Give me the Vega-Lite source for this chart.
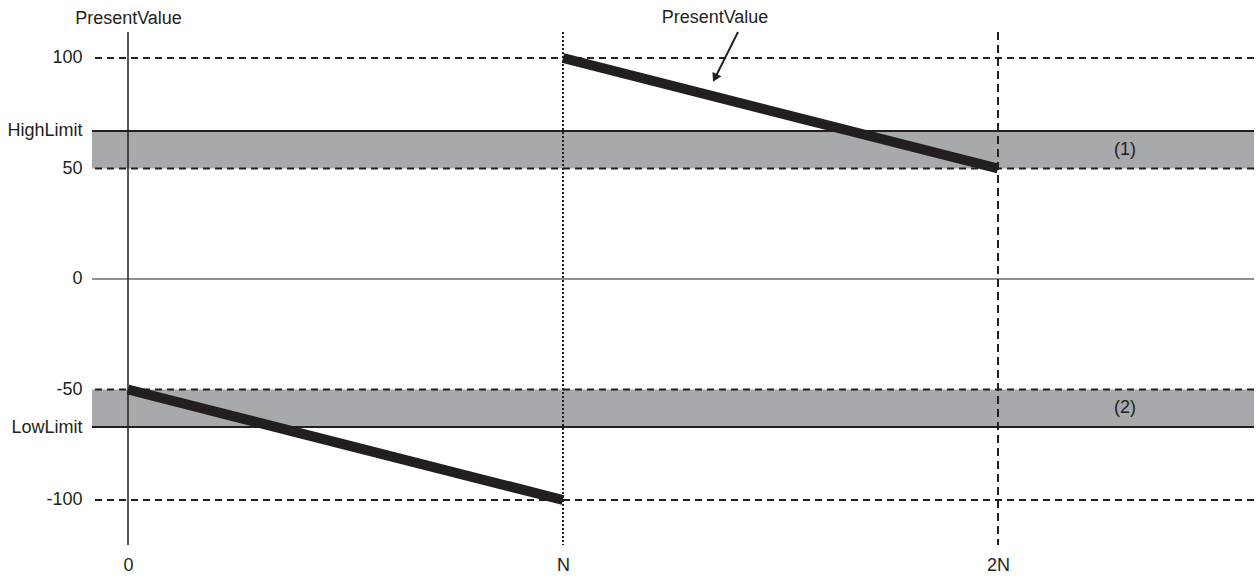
{
  "$schema": "https://vega.github.io/schema/vega-lite/v6.json",
  "width": 1162,
  "height": 548,
  "padding": {"left": 92, "top": 0, "right": 2, "bottom": 30},
  "autosize": {"type": "none"},
  "config": {
    "view": {"stroke": null},
    "font": "Liberation Sans",
    "axis": {"labelColor": "#231f20", "titleColor": "#231f20", "labelFont": "Liberation Sans", "titleFont": "Liberation Sans"}
  },
  "layer": [
    {
      "data": {"values": [
        {"lo": 50, "hi": 67},
        {"lo": -67, "hi": -50}
      ]},
      "mark": {"type": "rect", "color": "#a7a9ac"},
      "encoding": {
        "y": {"field": "lo", "type": "quantitative",
          "scale": {"domain": [-121.72, 126.24], "nice": false, "zero": false},
          "axis": {"values": [100, 67, 50, 0, -50, -67, -100],
            "labelExpr": "datum.value == 67 ? 'HighLimit' : datum.value == -67 ? 'LowLimit' : '' + datum.value",
            "domain": false, "ticks": false, "grid": false, "labelPadding": 10, "labelFontSize": 18,
            "title": "PresentValue", "titleAngle": 0, "titleX": 36, "titleY": 18,
            "titleAlign": "center", "titleBaseline": "middle", "titleFontWeight": "normal", "titleFontSize": 18}},
        "y2": {"field": "hi"}
      }
    },
    {
      "data": {"values": [{"v": 100}, {"v": 50}, {"v": -50}, {"v": -100}]},
      "mark": {"type": "rule", "color": "#231f20", "strokeWidth": 2, "strokeDash": [7, 5]},
      "encoding": {
        "y": {"field": "v", "type": "quantitative", "scale": {"domain": [-121.72, 126.24], "nice": false, "zero": false},
          "axis": {"values": [100, 67, 50, 0, -50, -67, -100],
            "labelExpr": "datum.value == 67 ? 'HighLimit' : datum.value == -67 ? 'LowLimit' : '' + datum.value",
            "domain": false, "ticks": false, "grid": false, "labelPadding": 10, "labelFontSize": 18,
            "title": "PresentValue", "titleAngle": 0, "titleX": 36, "titleY": 18,
            "titleAlign": "center", "titleBaseline": "middle", "titleFontWeight": "normal", "titleFontSize": 18}}
      }
    },
    {
      "data": {"values": [{"v": 67}, {"v": -67}]},
      "mark": {"type": "rule", "color": "#231f20", "strokeWidth": 2},
      "encoding": {
        "y": {"field": "v", "type": "quantitative", "scale": {"domain": [-121.72, 126.24], "nice": false, "zero": false},
          "axis": {"values": [100, 67, 50, 0, -50, -67, -100],
            "labelExpr": "datum.value == 67 ? 'HighLimit' : datum.value == -67 ? 'LowLimit' : '' + datum.value",
            "domain": false, "ticks": false, "grid": false, "labelPadding": 10, "labelFontSize": 18,
            "title": "PresentValue", "titleAngle": 0, "titleX": 36, "titleY": 18,
            "titleAlign": "center", "titleBaseline": "middle", "titleFontWeight": "normal", "titleFontSize": 18}}
      }
    },
    {
      "data": {"values": [{"v": 0}]},
      "mark": {"type": "rule", "color": "#231f20", "strokeWidth": 1},
      "encoding": {
        "y": {"field": "v", "type": "quantitative", "scale": {"domain": [-121.72, 126.24], "nice": false, "zero": false},
          "axis": {"values": [100, 67, 50, 0, -50, -67, -100],
            "labelExpr": "datum.value == 67 ? 'HighLimit' : datum.value == -67 ? 'LowLimit' : '' + datum.value",
            "domain": false, "ticks": false, "grid": false, "labelPadding": 10, "labelFontSize": 18,
            "title": "PresentValue", "titleAngle": 0, "titleX": 36, "titleY": 18,
            "titleAlign": "center", "titleBaseline": "middle", "titleFontWeight": "normal", "titleFontSize": 18}}
      }
    },
    {
      "data": {"values": [{"x": 0, "top": 111.8, "bottom": -120.4}]},
      "mark": {"type": "rule", "color": "#231f20", "strokeWidth": 1.5},
      "encoding": {
        "x": {"field": "x", "type": "quantitative",
          "scale": {"domain": [-0.08276, 2.5885], "nice": false, "zero": false},
          "axis": {"values": [0, 1, 2],
            "labelExpr": "datum.value == 0 ? '0' : datum.value == 1 ? 'N' : '2N'",
            "domain": false, "ticks": false, "grid": false, "labelPadding": 8, "labelFontSize": 18, "title": null}},
        "y": {"field": "top", "type": "quantitative", "scale": {"domain": [-121.72, 126.24], "nice": false, "zero": false},
          "axis": {"values": [100, 67, 50, 0, -50, -67, -100],
            "labelExpr": "datum.value == 67 ? 'HighLimit' : datum.value == -67 ? 'LowLimit' : '' + datum.value",
            "domain": false, "ticks": false, "grid": false, "labelPadding": 10, "labelFontSize": 18,
            "title": "PresentValue", "titleAngle": 0, "titleX": 36, "titleY": 18,
            "titleAlign": "center", "titleBaseline": "middle", "titleFontWeight": "normal", "titleFontSize": 18}},
        "y2": {"field": "bottom"}
      }
    },
    {
      "data": {"values": [{"x": 1, "top": 111.8, "bottom": -120.4}]},
      "mark": {"type": "rule", "color": "#231f20", "strokeWidth": 2, "strokeDash": [2, 2]},
      "encoding": {
        "x": {"field": "x", "type": "quantitative", "scale": {"domain": [-0.08276, 2.5885], "nice": false, "zero": false},
          "axis": {"values": [0, 1, 2],
            "labelExpr": "datum.value == 0 ? '0' : datum.value == 1 ? 'N' : '2N'",
            "domain": false, "ticks": false, "grid": false, "labelPadding": 8, "labelFontSize": 18, "title": null}},
        "y": {"field": "top", "type": "quantitative", "scale": {"domain": [-121.72, 126.24], "nice": false, "zero": false},
          "axis": {"values": [100, 67, 50, 0, -50, -67, -100],
            "labelExpr": "datum.value == 67 ? 'HighLimit' : datum.value == -67 ? 'LowLimit' : '' + datum.value",
            "domain": false, "ticks": false, "grid": false, "labelPadding": 10, "labelFontSize": 18,
            "title": "PresentValue", "titleAngle": 0, "titleX": 36, "titleY": 18,
            "titleAlign": "center", "titleBaseline": "middle", "titleFontWeight": "normal", "titleFontSize": 18}},
        "y2": {"field": "bottom"}
      }
    },
    {
      "data": {"values": [{"x": 2, "top": 111.8, "bottom": -120.4}]},
      "mark": {"type": "rule", "color": "#231f20", "strokeWidth": 2, "strokeDash": [8, 5]},
      "encoding": {
        "x": {"field": "x", "type": "quantitative", "scale": {"domain": [-0.08276, 2.5885], "nice": false, "zero": false},
          "axis": {"values": [0, 1, 2],
            "labelExpr": "datum.value == 0 ? '0' : datum.value == 1 ? 'N' : '2N'",
            "domain": false, "ticks": false, "grid": false, "labelPadding": 8, "labelFontSize": 18, "title": null}},
        "y": {"field": "top", "type": "quantitative", "scale": {"domain": [-121.72, 126.24], "nice": false, "zero": false},
          "axis": {"values": [100, 67, 50, 0, -50, -67, -100],
            "labelExpr": "datum.value == 67 ? 'HighLimit' : datum.value == -67 ? 'LowLimit' : '' + datum.value",
            "domain": false, "ticks": false, "grid": false, "labelPadding": 10, "labelFontSize": 18,
            "title": "PresentValue", "titleAngle": 0, "titleX": 36, "titleY": 18,
            "titleAlign": "center", "titleBaseline": "middle", "titleFontWeight": "normal", "titleFontSize": 18}},
        "y2": {"field": "bottom"}
      }
    },
    {
      "data": {"values": [
        {"x": 0, "y": -50, "x2": 1, "y2": -100},
        {"x": 1, "y": 100, "x2": 2, "y2": 50}
      ]},
      "mark": {"type": "rule", "color": "#231f20", "strokeWidth": 10, "strokeCap": "butt"},
      "encoding": {
        "x": {"field": "x", "type": "quantitative", "scale": {"domain": [-0.08276, 2.5885], "nice": false, "zero": false},
          "axis": {"values": [0, 1, 2],
            "labelExpr": "datum.value == 0 ? '0' : datum.value == 1 ? 'N' : '2N'",
            "domain": false, "ticks": false, "grid": false, "labelPadding": 8, "labelFontSize": 18, "title": null}},
        "y": {"field": "y", "type": "quantitative", "scale": {"domain": [-121.72, 126.24], "nice": false, "zero": false},
          "axis": {"values": [100, 67, 50, 0, -50, -67, -100],
            "labelExpr": "datum.value == 67 ? 'HighLimit' : datum.value == -67 ? 'LowLimit' : '' + datum.value",
            "domain": false, "ticks": false, "grid": false, "labelPadding": 10, "labelFontSize": 18,
            "title": "PresentValue", "titleAngle": 0, "titleX": 36, "titleY": 18,
            "titleAlign": "center", "titleBaseline": "middle", "titleFontWeight": "normal", "titleFontSize": 18}},
        "x2": {"field": "x2"},
        "y2": {"field": "y2"}
      }
    },
    {
      "data": {"values": [{"x": 1.4023, "y": 111.76, "x2": 1.3494, "y2": 90.95}]},
      "mark": {"type": "rule", "color": "#231f20", "strokeWidth": 2},
      "encoding": {
        "x": {"field": "x", "type": "quantitative", "scale": {"domain": [-0.08276, 2.5885], "nice": false, "zero": false},
          "axis": {"values": [0, 1, 2],
            "labelExpr": "datum.value == 0 ? '0' : datum.value == 1 ? 'N' : '2N'",
            "domain": false, "ticks": false, "grid": false, "labelPadding": 8, "labelFontSize": 18, "title": null}},
        "y": {"field": "y", "type": "quantitative", "scale": {"domain": [-121.72, 126.24], "nice": false, "zero": false},
          "axis": {"values": [100, 67, 50, 0, -50, -67, -100],
            "labelExpr": "datum.value == 67 ? 'HighLimit' : datum.value == -67 ? 'LowLimit' : '' + datum.value",
            "domain": false, "ticks": false, "grid": false, "labelPadding": 10, "labelFontSize": 18,
            "title": "PresentValue", "titleAngle": 0, "titleX": 36, "titleY": 18,
            "titleAlign": "center", "titleBaseline": "middle", "titleFontWeight": "normal", "titleFontSize": 18}},
        "x2": {"field": "x2"},
        "y2": {"field": "y2"}
      }
    },
    {
      "data": {"values": [{"x": 1.3494, "y": 90.95}]},
      "mark": {"type": "point", "shape": "triangle-up", "filled": true, "color": "#231f20", "size": 100, "angle": 206.6, "opacity": 1},
      "encoding": {
        "x": {"field": "x", "type": "quantitative", "scale": {"domain": [-0.08276, 2.5885], "nice": false, "zero": false},
          "axis": {"values": [0, 1, 2],
            "labelExpr": "datum.value == 0 ? '0' : datum.value == 1 ? 'N' : '2N'",
            "domain": false, "ticks": false, "grid": false, "labelPadding": 8, "labelFontSize": 18, "title": null}},
        "y": {"field": "y", "type": "quantitative", "scale": {"domain": [-121.72, 126.24], "nice": false, "zero": false},
          "axis": {"values": [100, 67, 50, 0, -50, -67, -100],
            "labelExpr": "datum.value == 67 ? 'HighLimit' : datum.value == -67 ? 'LowLimit' : '' + datum.value",
            "domain": false, "ticks": false, "grid": false, "labelPadding": 10, "labelFontSize": 18,
            "title": "PresentValue", "titleAngle": 0, "titleX": 36, "titleY": 18,
            "titleAlign": "center", "titleBaseline": "middle", "titleFontWeight": "normal", "titleFontSize": 18}}
      }
    },
    {
      "data": {"values": [
        {"x": 1.3494, "y": 118.1, "t": "PresentValue"},
        {"x": 2.292, "y": 58.5, "t": "(1)"},
        {"x": 2.292, "y": -58.5, "t": "(2)"}
      ]},
      "mark": {"type": "text", "fontSize": 18, "color": "#231f20", "align": "center", "baseline": "middle"},
      "encoding": {
        "x": {"field": "x", "type": "quantitative", "scale": {"domain": [-0.08276, 2.5885], "nice": false, "zero": false},
          "axis": {"values": [0, 1, 2],
            "labelExpr": "datum.value == 0 ? '0' : datum.value == 1 ? 'N' : '2N'",
            "domain": false, "ticks": false, "grid": false, "labelPadding": 8, "labelFontSize": 18, "title": null}},
        "y": {"field": "y", "type": "quantitative", "scale": {"domain": [-121.72, 126.24], "nice": false, "zero": false},
          "axis": {"values": [100, 67, 50, 0, -50, -67, -100],
            "labelExpr": "datum.value == 67 ? 'HighLimit' : datum.value == -67 ? 'LowLimit' : '' + datum.value",
            "domain": false, "ticks": false, "grid": false, "labelPadding": 10, "labelFontSize": 18,
            "title": "PresentValue", "titleAngle": 0, "titleX": 36, "titleY": 18,
            "titleAlign": "center", "titleBaseline": "middle", "titleFontWeight": "normal", "titleFontSize": 18}},
        "text": {"field": "t"}
      }
    }
  ]
}
